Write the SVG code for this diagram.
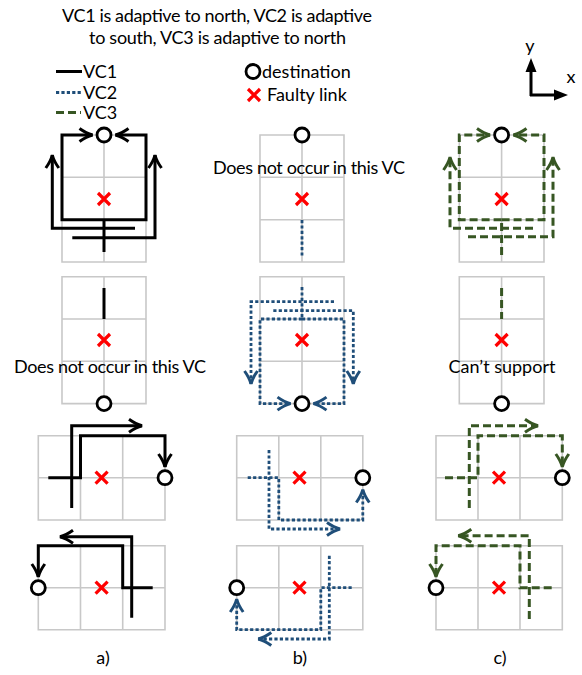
<svg xmlns="http://www.w3.org/2000/svg" width="582" height="675" viewBox="0 0 582 675">
<style>
.g{fill:none;stroke:#c8c8c8;stroke-width:1.6}
.k{fill:none;stroke:#000;stroke-width:3;stroke-linejoin:miter}
.b{fill:none;stroke:#1f4e79;stroke-width:2.8;stroke-dasharray:3.2 2.2}
.v{fill:none;stroke:#375623;stroke-width:3;stroke-dasharray:8 4}
.d{fill:#fff;stroke:#000;stroke-width:2.8}
.t{font-family:Lato,"Liberation Sans",sans-serif;font-size:18px;fill:#000}
.m{text-anchor:middle}
</style>
<defs>
<g id="x"><path d="M-6,-6L6,6M6,-6L-6,6" stroke="#ff0000" stroke-width="3.2" fill="none"/></g>
<marker id="ak" markerUnits="userSpaceOnUse" markerWidth="30" markerHeight="30" viewBox="-15 -15 30 30" refX="0" refY="0" orient="auto" overflow="visible"><path d="M-13,-6.5Q-6,-1.5 0,0Q-6,1.5 -13,6.5" fill="none" stroke="#000" stroke-width="3"/></marker>
<marker id="ab" markerUnits="userSpaceOnUse" markerWidth="30" markerHeight="30" viewBox="-15 -15 30 30" refX="0" refY="0" orient="auto" overflow="visible"><path d="M-13,-6.5Q-6,-1.5 0,0Q-6,1.5 -13,6.5" fill="none" stroke="#1f4e79" stroke-width="3"/></marker>
<marker id="av" markerUnits="userSpaceOnUse" markerWidth="30" markerHeight="30" viewBox="-15 -15 30 30" refX="0" refY="0" orient="auto" overflow="visible"><path d="M-13,-6.5Q-6,-1.5 0,0Q-6,1.5 -13,6.5" fill="none" stroke="#375623" stroke-width="3"/></marker>
</defs>

<g id="title">
<text class="t m" x="217" y="21.5" textLength="310">VC1 is adaptive to north, VC2 is adaptive</text>
<text class="t m" x="217.5" y="43.5" textLength="257">to south, VC3 is adaptive to north</text>
</g>

<g id="legend">
<path d="M56,71.5H82" stroke="#000" stroke-width="3"/>
<text class="t" x="83" y="77.5">VC1</text>
<path d="M56,92.5H81" class="b"/>
<text class="t" x="83" y="98.5">VC2</text>
<path d="M56,112.5H81" class="v"/>
<text class="t" x="83" y="118.5">VC3</text>
<circle cx="253" cy="71.5" r="7" class="d"/>
<text class="t" x="262" y="77.5">destination</text>
<use href="#x" x="254" y="95"/>
<text class="t" x="267" y="101">Faulty link</text>
</g>

<g id="axes">
<path d="M531,96V70M530,95H556" stroke="#000" stroke-width="3" fill="none"/>
<path d="M531,58L525.5,72H536.5Z M568,95L554,89.5V100.5Z" fill="#000"/>
<text class="t m" x="530" y="52">y</text>
<text class="t m" x="571" y="83">x</text>
</g>

<g id="grids">
<path class="g" d="M62,135H146V262H62Z M62,177.3H146M62,219.7H146M104,135V262"/>
<path class="g" d="M62,276.7H146V403.6H62Z M62,319H146M62,361.3H146M104,276.7V403.6"/>
<path class="g" d="M260,135H344V262H260Z M260,177.3H344M260,219.7H344M302,135V262"/>
<path class="g" d="M260,276.7H344V403.6H260Z M260,319H344M260,361.3H344M302,276.7V403.6"/>
<path class="g" d="M459.3,135H544V262H459.3Z M459.3,177.3H544M459.3,219.7H544M501.6,135V262"/>
<path class="g" d="M459.3,276.7H544V403.6H459.3Z M459.3,319H544M459.3,361.3H544M501.6,276.7V403.6"/>
<path class="g" d="M38.3,435.7H165V520H38.3Z M38.3,477.7H165M80.5,435.7V520M122.7,435.7V520"/>
<path class="g" d="M38.3,545.7H165V629.7H38.3Z M38.3,587.7H165M80.5,545.7V629.7M122.7,545.7V629.7"/>
<path class="g" d="M236.7,435.7H362.8V520H236.7Z M236.7,477.7H362.8M278.8,435.7V520M320.8,435.7V520"/>
<path class="g" d="M236.7,545.7H362.8V629.7H236.7Z M236.7,587.7H362.8M278.8,545.7V629.7M320.8,545.7V629.7"/>
<path class="g" d="M436,435.7H562.3V520H436Z M436,477.7H562.3M478,435.7V520M520,435.7V520"/>
<path class="g" d="M436,545.7H562.3V629.7H436Z M436,587.7H562.3M478,545.7V629.7M520,545.7V629.7"/>
</g>

<g id="faults">
<use href="#x" x="104" y="199"/>
<use href="#x" x="104" y="340"/>
<use href="#x" x="302" y="199"/>
<use href="#x" x="302" y="340"/>
<use href="#x" x="501.6" y="199"/>
<use href="#x" x="501.6" y="340"/>
<use href="#x" x="101.6" y="477.7"/>
<use href="#x" x="101.6" y="587.7"/>
<use href="#x" x="299.5" y="477.7"/>
<use href="#x" x="299.5" y="587.7"/>
<use href="#x" x="499" y="477.7"/>
<use href="#x" x="499" y="587.7"/>
</g>

<g id="connectors">
<path class="k" d="M104,252V219.7"/>
<path class="k" d="M104,219.7H62V135H92.5" marker-end="url(#ak)"/>
<path class="k" d="M104,219.7H146V135H115.5" marker-end="url(#ak)"/>
<path class="k" d="M135,228.3H52.3V155" marker-end="url(#ak)"/>
<path class="k" d="M72.3,237.7H155V155" marker-end="url(#ak)"/>
<path class="k" d="M104,288V319"/>

<path class="b" d="M302,220V256"/>
<path class="b" d="M302,287V319"/>
<path class="b" d="M302,319H260V403.6H290.5" marker-end="url(#ab)"/>
<path class="b" d="M302,319H344V403.6H313.5" marker-end="url(#ab)"/>
<path class="b" d="M334,301.7H251V384" marker-end="url(#ab)"/>
<path class="b" d="M273.3,310.7H353.3V384" marker-end="url(#ab)"/>

<path class="v" d="M501.6,255V219.7"/>
<path class="v" d="M501.6,219.7H459.3V135H490" marker-end="url(#av)"/>
<path class="v" d="M501.6,219.7H544V135H513.5" marker-end="url(#av)"/>
<path class="v" d="M533,228.3H450V157" marker-end="url(#av)"/>
<path class="v" d="M468,236.7H553V157" marker-end="url(#av)"/>
<path class="v" d="M501.6,288V319"/>

<path class="k" d="M48.3,477.7H80.5V435.7H165V467" marker-end="url(#ak)"/>
<path class="k" d="M71.7,508V425.7H142" marker-end="url(#ak)"/>
<path class="k" d="M152.7,587.7H122.7V545.7H38.3V577" marker-end="url(#ak)"/>
<path class="k" d="M131.7,617.7V536.7H60" marker-end="url(#ak)"/>

<path class="b" d="M247.7,477.7H278.8V520H362.8V489.5" marker-end="url(#ab)"/>
<path class="b" d="M269,450V529H340" marker-end="url(#ab)"/>
<path class="b" d="M351.7,587.7H320.8V629.7H236.7V599" marker-end="url(#ab)"/>
<path class="b" d="M329.3,555.7V639H258.3" marker-end="url(#ab)"/>

<path class="v" d="M445,477.7H478V435.7H562.3V467" marker-end="url(#av)"/>
<path class="v" d="M469.3,508V425.7H538" marker-end="url(#av)"/>
<path class="v" d="M551.7,587.7H520V545.7H436V577" marker-end="url(#av)"/>
<path class="v" d="M529.3,619V535.7H458.3" marker-end="url(#av)"/>
</g>

<g id="destinations">
<circle class="d" cx="104" cy="135" r="7"/>
<circle class="d" cx="104" cy="403.6" r="7"/>
<circle class="d" cx="302" cy="135" r="7"/>
<circle class="d" cx="302" cy="403.6" r="7"/>
<circle class="d" cx="501.6" cy="135" r="7"/>
<circle class="d" cx="501.6" cy="403.6" r="7"/>
<circle class="d" cx="165" cy="477.7" r="7"/>
<circle class="d" cx="38.3" cy="587.7" r="7"/>
<circle class="d" cx="362.8" cy="477.7" r="7"/>
<circle class="d" cx="236.7" cy="587.7" r="7"/>
<circle class="d" cx="562.3" cy="477.7" r="7"/>
<circle class="d" cx="436" cy="587.7" r="7"/>
</g>

<g id="notes">
<text class="t" x="213" y="174" textLength="192">Does not occur in this VC</text>
<text class="t" x="14" y="373" textLength="192">Does not occur in this VC</text>
<text class="t m" x="502" y="373">Can’t support</text>
</g>

<g id="captions">
<text class="t m" x="103" y="664">a)</text>
<text class="t m" x="300" y="664">b)</text>
<text class="t m" x="500" y="664">c)</text>
</g>
</svg>
